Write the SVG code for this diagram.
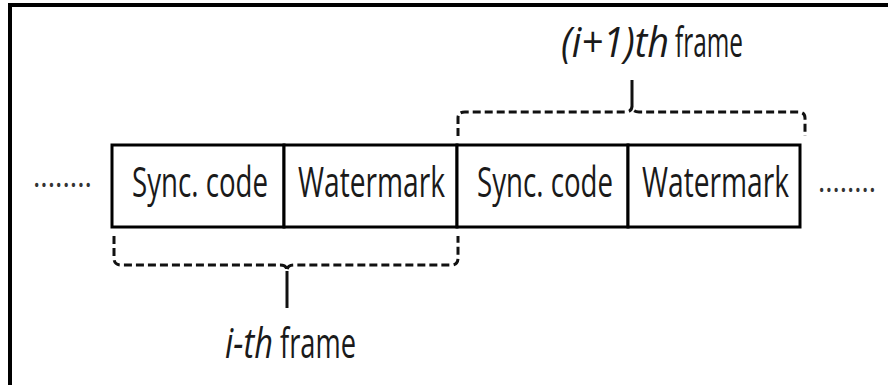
<svg xmlns="http://www.w3.org/2000/svg" width="888" height="385" viewBox="0 0 888 385">
  <style>
    .cell { fill: #fff; stroke: #000; stroke-width: 3; }
    .lbl { font-family: "Open Sans", "Liberation Sans", sans-serif; font-size: 26px; fill: #1a1a1a; }
    .it { font-style: italic; }
    .dots { font-family: "Open Sans", "Liberation Sans", sans-serif; font-size: 20px; fill: #333; }
    .brace { fill: none; stroke: #111; stroke-width: 3; stroke-dasharray: 8 4; }
    .tick { fill: none; stroke: #111; stroke-width: 3; }
  </style>

  <rect width="888" height="385" fill="#fff"/>
  <!-- outer frame, open to the right and bottom -->
  <rect x="10" y="5" width="900" height="400" fill="none" stroke="#000" stroke-width="4"/>

  <g id="stream-left-dots">
    <text class="dots" transform="translate(33,187) scale(1,1.6)" textLength="59" lengthAdjust="spacingAndGlyphs">........</text>
  </g>

  <g id="sync1">
    <rect class="cell" x="112" y="145" width="172" height="82"/>
    <text class="lbl" transform="translate(132,197) scale(1,1.6)" textLength="136" lengthAdjust="spacingAndGlyphs">Sync. code</text>
  </g>
  <g id="wm1">
    <rect class="cell" x="284" y="145" width="173" height="82"/>
    <text class="lbl" transform="translate(298,197) scale(1,1.6)" textLength="147" lengthAdjust="spacingAndGlyphs">Watermark</text>
  </g>
  <g id="sync2">
    <rect class="cell" x="457" y="145" width="171" height="82"/>
    <text class="lbl" transform="translate(477,197) scale(1,1.6)" textLength="136" lengthAdjust="spacingAndGlyphs">Sync. code</text>
  </g>
  <g id="wm2">
    <rect class="cell" x="628" y="145" width="172" height="82"/>
    <text class="lbl" transform="translate(642,197) scale(1,1.6)" textLength="147" lengthAdjust="spacingAndGlyphs">Watermark</text>
  </g>

  <g id="stream-right-dots">
    <text class="dots" transform="translate(818,192) scale(1,1.6)" textLength="58" lengthAdjust="spacingAndGlyphs">........</text>
  </g>

  <g id="connectors">
    <!-- brace over the (i+1)th frame -->
    <path class="brace" d="M458,136 L458,118 Q458,112 465,112 L625,112 Q632,112 632,106 Q632,112 639,112 L798,112 Q805,112 805,118 L805,136"/>
    <line class="tick" x1="632" y1="80" x2="632" y2="106"/>
    <!-- brace under the i-th frame -->
    <path class="brace" d="M114,236 L114,258 Q114,265 121,265 L280,265 Q287,265 287,271 Q287,265 294,265 L451,265 Q458,265 458,258 L458,236"/>
    <line class="tick" x1="287" y1="271" x2="287" y2="308"/>
  </g>

  <g id="label-next-frame">
    <text class="lbl it" transform="translate(561,57) scale(1,1.6)" textLength="108" lengthAdjust="spacingAndGlyphs">(i+1)th</text>
    <text class="lbl" transform="translate(675,57) scale(1,1.6)" textLength="68" lengthAdjust="spacingAndGlyphs">frame</text>
  </g>
  <g id="label-this-frame">
    <text class="lbl it" transform="translate(225,358) scale(1,1.6)" textLength="48" lengthAdjust="spacingAndGlyphs">i-th</text>
    <text class="lbl" transform="translate(280,358) scale(1,1.6)" textLength="76" lengthAdjust="spacingAndGlyphs">frame</text>
  </g>
</svg>
